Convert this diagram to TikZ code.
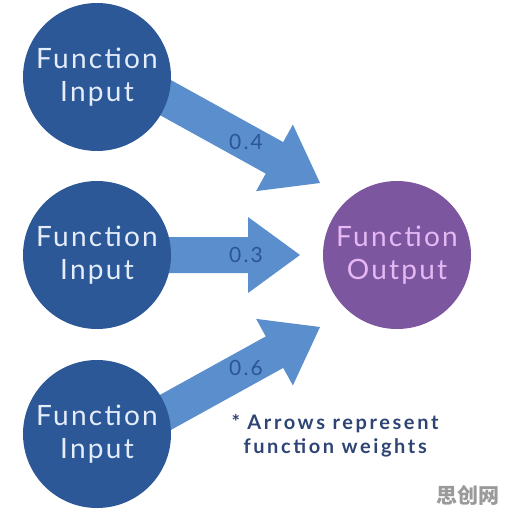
\documentclass[tikz,border=0pt]{standalone}
\usepackage{fontspec}
\setmainfont{Lato}
\newfontfamily\circfont[LetterSpace=8]{Lato}
\newfontfamily\weightfont[LetterSpace=10]{Lato}
\newfontfamily\notefont[LetterSpace=13]{Lato}
\newfontfamily\cjk{Noto Sans CJK SC}
\usetikzlibrary{calc}
\definecolor{inblue}{HTML}{2C5898}
\definecolor{arrblue}{HTML}{5A8ECC}
\definecolor{outpurple}{HTML}{7D56A0}
\definecolor{intext}{HTML}{E4EDF9}
\definecolor{outtext}{HTML}{E6B8F4}
\definecolor{wtext}{HTML}{2B5597}
\definecolor{notecol}{HTML}{2E4474}
\definecolor{wmark}{HTML}{9A9A9A}
\tikzset{
  incircle/.style={circle, fill=inblue, minimum size=148pt, inner sep=0pt,
    text=intext, font=\circfont\fontsize{28}{33}\selectfont, align=center},
  outcircle/.style={circle, fill=outpurple, minimum size=148pt, inner sep=0pt,
    text=outtext, font=\circfont\fontsize{28}{33}\selectfont, align=center},
  weight/.style={text=wtext, font=\weightfont\fontsize{21}{22}\selectfont},
  notetext/.style={text=notecol, font=\notefont\bfseries\fontsize{20}{24}\selectfont, align=left}
}
\newcommand{\fatarrow}[2]{%
  \fill[arrblue]
    ($(#1)!18pt!90:(#2)$) --
    ($($(#2)!52pt!(#1)$)!18pt!90:(#2)$) --
    ($($(#2)!52pt!(#1)$)!38pt!90:(#2)$) --
    (#2) --
    ($($(#2)!52pt!(#1)$)!38pt!-90:(#2)$) --
    ($($(#2)!52pt!(#1)$)!18pt!-90:(#2)$) --
    ($(#1)!18pt!-90:(#2)$) -- cycle;}
\begin{document}
\begin{tikzpicture}[x=1pt,y=-1pt]
\useasboundingbox[fill=white] (0,0) rectangle (504,513);
% arrow anchors
\coordinate (s1) at (130,78);
\coordinate (t1) at (320,183);
\coordinate (s2) at (130,255);
\coordinate (t2) at (300,255);
\coordinate (s3) at (130,432);
\coordinate (t3) at (320,327);
\fatarrow{s1}{t1}
\fatarrow{s2}{t2}
\fatarrow{s3}{t3}
% circles
\node[incircle] (in1) at (97,77) {Function\\Input};
\node[incircle] (in2) at (97,255) {Function\\Input};
\node[incircle] (in3) at (97,434) {Function\\Input};
\node[outcircle] (out) at (397,255) {Function\\Output};
% weights
\node[weight] (w1) at (246,142) {0.4};
\node[weight] (w2) at (246,255) {0.3};
\node[weight] (w3) at (246,368) {0.6};
% note
\node[notetext, anchor=north west] (note) at (228,411) {* Arrows represent\\\hspace*{12pt}function weights};
% watermark
\node[text=wmark, font=\cjk\bfseries\fontsize{21}{21}\selectfont] (wm) at (468,495) {思创网};
\end{tikzpicture}
\end{document}
